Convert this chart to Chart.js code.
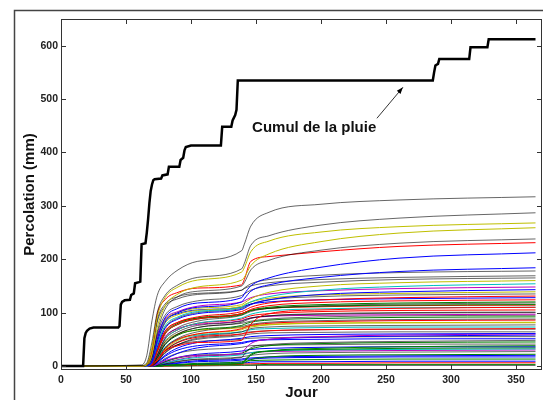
<!DOCTYPE html>
<html lang="fr">
  <head>
    <meta charset="UTF-8" />
    <title>Percolation</title>
    <script src="https://cdn.jsdelivr.net/npm/chart.js@4.4.0/dist/chart.umd.min.js"></script>
    <style>
      body { margin: 0; background: #fff; }
      canvas { display: block; }
    </style>
  </head>
  <body>
    <canvas id="myChart" width="543" height="400"></canvas>

    <script>
// cumul de la pluie (jour, mm)
const rainDays = [0, 17, 18, 19, 20, 22, 25, 44, 45, 46, 47, 49, 53, 54, 56, 57, 60, 61, 62, 65, 66, 67, 68, 69, 70, 71, 72, 77, 78, 82, 83, 91, 92, 94, 95, 96, 100, 123, 124, 131, 132, 134, 135, 136, 286, 287, 288, 290, 291, 314, 315, 328, 329, 365];
const rainVals = [0, 0, 52, 62, 66, 70, 72, 72, 75, 115, 120, 123, 124, 133, 136, 155, 157, 158, 228, 230, 250, 275, 305, 328, 340, 348, 350, 351, 357, 359, 373, 373, 386, 390, 404, 410, 413, 413, 448, 448, 460, 470, 480, 535, 535, 550, 563, 566, 575, 575, 597, 597, 612, 612];

// percolation : valeurs lues aux jours clés
const keyDays = [0, 62, 66, 70, 74, 80, 90, 105, 139, 141, 146, 160, 200, 260, 365];
const percolation = [
  [0, 2, 20, 85, 132, 158, 180, 196, 216, 228, 262, 288, 303, 311, 317],
  [0, 1, 6, 45, 100, 132, 152, 166, 182, 192, 226, 244, 264, 277, 287],
  [0, 0, 4, 35, 92, 128, 148, 161, 176, 184, 214, 234, 251, 261, 268],
  [0, 0, 2, 22, 72, 112, 135, 148, 161, 166, 188, 210, 233, 249, 259],
  [0, 0, 2, 18, 64, 106, 130, 140, 150, 156, 180, 198, 217, 230, 238],
  [0, 0, 2, 28, 96, 124, 138, 146, 152, 162, 196, 205, 214, 224, 231],
  [0, 0, 1, 10, 50, 90, 108, 118, 128, 135, 150, 165, 185, 202, 212],
  [0, 0, 1, 8, 45, 82, 100, 110, 120, 126, 140, 152, 166, 177, 184],
  [0, 0, 2, 26, 82, 112, 126, 134, 142, 146, 154, 162, 170, 175, 178],
  [0, 0, 2, 30, 86, 116, 130, 136, 142, 145, 150, 156, 162, 166, 169],
  [0, 0, 1, 15, 60, 95, 112, 122, 132, 135, 142, 150, 157, 162, 165],
  [0, 0, 1, 12, 50, 85, 100, 108, 115, 118, 126, 138, 150, 156, 160],
  [0, 0, 0, 8, 40, 75, 92, 102, 110, 113, 120, 130, 142, 149, 154],
  [0, 0, 1, 10, 55, 88, 102, 112, 120, 122, 128, 135, 141, 145, 148],
  [0, 0, 0, 6, 35, 70, 88, 98, 106, 108, 115, 124, 134, 139, 143],
  [0, 0, 0, 10, 45, 80, 96, 104, 112, 115, 120, 127, 133, 136, 139],
  [0, 0, 1, 8, 40, 72, 90, 100, 108, 110, 116, 124, 130, 133, 135],
  [0, 0, 0, 5, 30, 65, 82, 92, 102, 104, 110, 118, 124, 128, 131],
  [0, 0, 1, 12, 55, 85, 98, 105, 110, 112, 116, 120, 124, 126, 128],
  [0, 0, 0, 4, 25, 60, 78, 88, 98, 100, 106, 113, 119, 122, 124],
  [0, 0, 0, 4, 28, 60, 78, 88, 96, 98, 104, 110, 115, 118, 120],
  [0, 0, 0, 3, 20, 52, 72, 84, 95, 97, 102, 108, 113, 116, 118],
  [0, 0, 0, 5, 30, 62, 80, 90, 98, 100, 104, 108, 112, 114, 115],
  [0, 0, 0, 6, 35, 65, 82, 90, 98, 100, 104, 108, 111, 113, 114],
  [0, 0, 0, 2, 12, 28, 38, 44, 48, 55, 78, 98, 105, 108, 110],
  [0, 0, 0, 3, 22, 50, 68, 80, 90, 92, 97, 103, 107, 109, 110],
  [0, 0, 0, 3, 20, 50, 68, 80, 88, 90, 94, 98, 102, 104, 105],
  [0, 0, 0, 2, 15, 40, 60, 72, 82, 84, 89, 94, 98, 100, 101],
  [0, 0, 0, 3, 20, 46, 64, 76, 84, 86, 90, 94, 97, 99, 100],
  [0, 0, 0, 4, 28, 55, 70, 78, 85, 87, 90, 93, 95, 96, 97],
  [0, 0, 0, 2, 18, 42, 60, 72, 80, 81, 84, 88, 92, 94, 95],
  [0, 0, 0, 2, 16, 40, 58, 68, 76, 78, 82, 86, 89, 91, 92],
  [0, 0, 0, 1, 12, 34, 52, 64, 74, 75, 78, 82, 85, 87, 88],
  [0, 0, 0, 1, 10, 32, 50, 60, 70, 72, 76, 80, 83, 85, 86],
  [0, 0, 0, 1, 10, 30, 48, 60, 68, 70, 73, 77, 80, 81, 82],
  [0, 0, 0, 3, 20, 45, 60, 67, 72, 73, 75, 78, 80, 81, 81],
  [0, 0, 0, 1, 8, 28, 45, 56, 64, 66, 70, 73, 75, 76, 77],
  [0, 0, 0, 2, 14, 35, 50, 58, 64, 65, 68, 70, 72, 73, 73],
  [0, 0, 0, 1, 10, 28, 44, 54, 60, 61, 63, 66, 68, 69, 70],
  [0, 0, 0, 1, 8, 24, 40, 52, 60, 62, 64, 66, 68, 69, 69],
  [0, 0, 0, 1, 8, 25, 40, 50, 57, 58, 60, 62, 63, 64, 64],
  [0, 0, 0, 1, 6, 20, 34, 44, 52, 53, 55, 57, 59, 60, 61],
  [0, 0, 0, 0, 3, 10, 16, 20, 24, 30, 42, 50, 55, 58, 60],
  [0, 0, 0, 0, 3, 12, 24, 34, 42, 43, 46, 50, 54, 56, 58],
  [0, 0, 0, 1, 10, 28, 40, 46, 50, 51, 52, 53, 54, 55, 55],
  [0, 0, 0, 1, 6, 18, 30, 38, 44, 45, 47, 49, 50, 51, 51],
  [0, 0, 0, 0, 1, 4, 8, 12, 16, 22, 34, 40, 44, 46, 48],
  [0, 0, 0, 0, 2, 8, 15, 20, 24, 26, 32, 38, 42, 44, 45],
  [0, 0, 0, 0, 4, 14, 24, 30, 35, 36, 38, 39, 40, 41, 41],
  [0, 0, 0, 0, 0, 1, 2, 3, 5, 8, 20, 28, 33, 36, 38],
  [0, 0, 0, 0, 2, 8, 16, 22, 28, 29, 31, 33, 35, 36, 36],
  [0, 0, 0, 0, 0, 1, 2, 3, 5, 10, 22, 28, 31, 33, 34],
  [0, 0, 0, 0, 1, 5, 11, 16, 21, 22, 25, 28, 30, 31, 32],
  [0, 0, 0, 0, 1, 6, 12, 18, 22, 23, 25, 27, 28, 29, 30],
  [0, 0, 0, 0, 1, 4, 9, 13, 17, 18, 20, 23, 25, 26, 27],
  [0, 0, 0, 0, 0, 1, 2, 3, 4, 6, 12, 17, 20, 21, 22],
  [0, 0, 0, 0, 1, 3, 6, 10, 13, 14, 15, 17, 18, 19, 20],
  [0, 0, 0, 0, 0, 2, 5, 8, 11, 12, 13, 15, 16, 17, 17],
  [0, 0, 0, 0, 0, 1, 3, 5, 8, 9, 10, 11, 12, 13, 13],
  [0, 0, 0, 0, 0, 1, 2, 4, 6, 6, 7, 8, 8, 9, 9],
  [0, 0, 0, 0, 0, 0, 1, 2, 3, 4, 4, 5, 5, 6, 6],
  [0, 0, 0, 0, 0, 0, 0, 1, 2, 2, 2, 3, 3, 3, 3],
  [0, 0, 0, 0, 0, 0, 0, 0, 1, 1, 1, 1, 1, 1, 1]
];
// couleurs matlab, une lettre par courbe
const curveColors = 'kkyykrbbkkkycmbykrbrgkgrrcrkkmkgkryykcrkkbmbkbkgkgbgcmkgbbgbrg';

const xTicks = [0, 50, 100, 150, 200, 250, 300, 350];
const yTicks = [0, 100, 200, 300, 400, 500, 600];

// annotation : position du texte et de la flèche (en jours / mm)
const noteText = 'Cumul de la pluie';
const notePos = [147, 447];
const arrowFrom = [243, 464];
const arrowTo = [263, 522];

const matlab = {
  k: 'rgba(0,0,0,0.6)',
  b: '#0000ff',
  g: '#008000',
  r: '#ff0000',
  c: '#00bfbf',
  m: '#bf00bf',
  y: '#bfbf00'
};

const FONT = '"Liberation Sans", Arial, sans-serif';

const datasets = percolation.map((row, i) => ({
  data: row.map((v, j) => ({ x: keyDays[j], y: v })),
  borderColor: matlab[curveColors[i]] || matlab.k,
  borderWidth: 1,
  cubicInterpolationMode: 'monotone',
  pointRadius: 0,
  order: 2
}));

datasets.push({
  data: rainDays.map((d, j) => ({ x: d, y: rainVals[j] })),
  borderColor: '#000',
  borderWidth: 2.5,
  tension: 0,
  pointRadius: 0,
  order: 1
});

// cadre, ticks vers l'intérieur, titres et annotation
const decor = {
  id: 'decor',
  beforeDraw(chart) {
    const c = chart.ctx;
    c.save();
    c.fillStyle = '#fff';
    c.fillRect(0, 0, chart.width, chart.height);
    c.strokeStyle = '#444';
    c.lineWidth = 1.5;
    c.strokeRect(14.5, 10.5, chart.width + 20, chart.height + 20);
    c.restore();
  },
  afterDraw(chart) {
    const c = chart.ctx;
    const a = chart.chartArea;
    const xs = chart.scales.x, ys = chart.scales.y;
    c.save();
    c.strokeStyle = '#333';
    c.lineWidth = 1;
    c.strokeRect(a.left + 0.5, a.top + 0.5, a.right - a.left - 1, a.bottom - a.top - 1);
    c.beginPath();
    xTicks.forEach(v => {
      const px = Math.round(xs.getPixelForValue(v)) + 0.5;
      c.moveTo(px, a.bottom); c.lineTo(px, a.bottom - 5);
      c.moveTo(px, a.top); c.lineTo(px, a.top + 5);
    });
    yTicks.forEach(v => {
      const py = Math.round(ys.getPixelForValue(v)) + 0.5;
      c.moveTo(a.left, py); c.lineTo(a.left + 5, py);
      c.moveTo(a.right, py); c.lineTo(a.right - 5, py);
    });
    c.stroke();

    c.fillStyle = '#111';
    c.font = 'bold 15px ' + FONT;
    c.textAlign = 'center';
    c.textBaseline = 'middle';
    c.fillText('Jour', (a.left + a.right) / 2, 393);
    c.save();
    c.translate(30, (a.top + a.bottom) / 2);
    c.rotate(-Math.PI / 2);
    c.fillText('Percolation (mm)', 0, 0);
    c.restore();

    c.textAlign = 'left';
    c.fillText(noteText, xs.getPixelForValue(notePos[0]), ys.getPixelForValue(notePos[1]));

    const x0 = xs.getPixelForValue(arrowFrom[0]), y0 = ys.getPixelForValue(arrowFrom[1]);
    const x1 = xs.getPixelForValue(arrowTo[0]), y1 = ys.getPixelForValue(arrowTo[1]);
    const ang = Math.atan2(y1 - y0, x1 - x0);
    c.strokeStyle = '#000';
    c.lineWidth = 0.8;
    c.beginPath();
    c.moveTo(x0, y0); c.lineTo(x1, y1);
    c.stroke();
    c.fillStyle = '#000';
    c.beginPath();
    c.moveTo(x1, y1);
    c.lineTo(x1 - 7 * Math.cos(ang - 0.35), y1 - 7 * Math.sin(ang - 0.35));
    c.lineTo(x1 - 7 * Math.cos(ang + 0.35), y1 - 7 * Math.sin(ang + 0.35));
    c.closePath();
    c.fill();
    c.restore();
  }
};

const tickFont = { family: FONT, size: 10.5, weight: 'bold' };

const ctx = document.getElementById('myChart').getContext('2d');
const myChart = new Chart(ctx, {
  type: 'line',
  data: { datasets: datasets },
  options: {
    responsive: false,
    devicePixelRatio: 1,
    animation: false,
    layout: { padding: { top: 19, right: 1, left: 0, bottom: 0 } },
    plugins: { legend: { display: false }, tooltip: { enabled: false } },
    scales: {
      x: {
        type: 'linear',
        min: 0,
        max: 370,
        afterBuildTicks: s => { s.ticks = xTicks.map(v => ({ value: v })); },
        afterFit: s => { s.height = 30; },
        grid: { display: false, drawTicks: false },
        border: { display: false },
        ticks: { font: tickFont, color: '#222', padding: 4, maxRotation: 0, autoSkip: false }
      },
      y: {
        min: -7.5,
        max: 650,
        afterBuildTicks: s => { s.ticks = yTicks.map(v => ({ value: v })); },
        afterFit: s => { s.width = 61; },
        grid: { display: false, drawTicks: false },
        border: { display: false },
        ticks: { font: tickFont, color: '#222', padding: 3, autoSkip: false }
      }
    }
  },
  plugins: [decor]
});
    </script>
  </body>
</html>
